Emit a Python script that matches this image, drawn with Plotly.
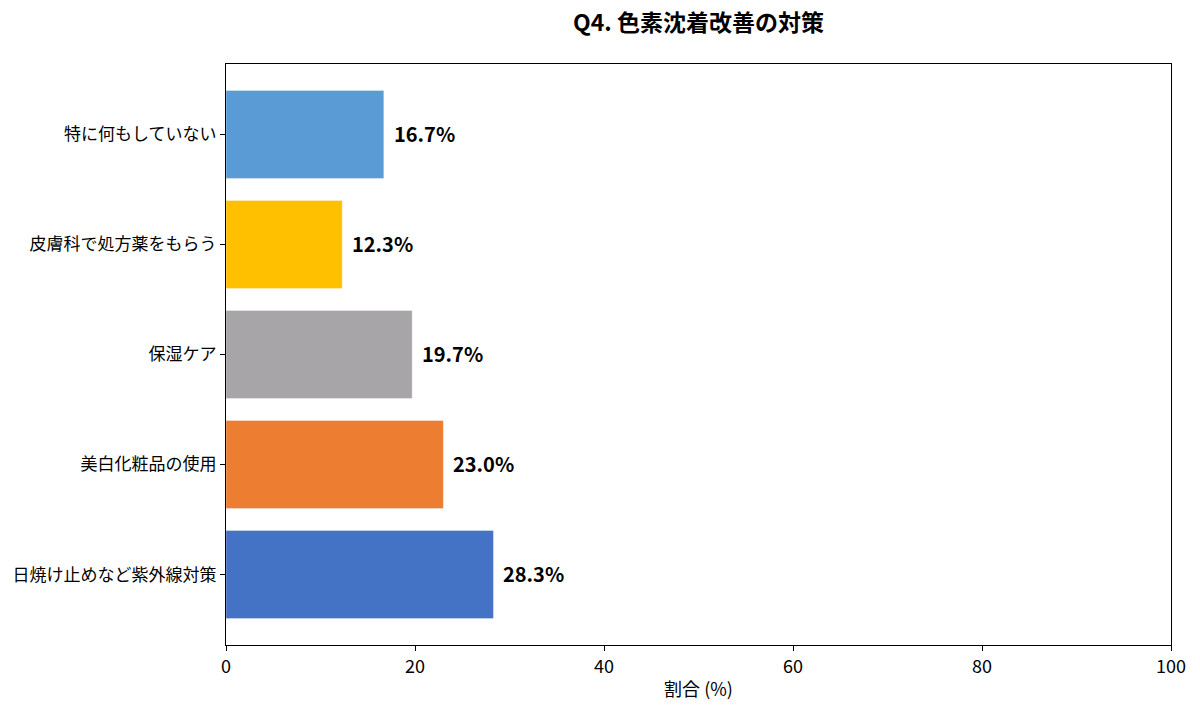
import plotly.graph_objects as go

categories = ["日焼け止めなど紫外線対策", "美白化粧品の使用", "保湿ケア", "皮膚科で処方薬をもらう", "特に何もしていない"]
values = [28.3, 23.0, 19.7, 12.3, 16.7]
colors = ["#4472C4", "#ED7D31", "#A7A5A8", "#FFC000", "#5B9BD5"]
labels = [f"{v:.1f}%" for v in values]
x_ticks = [0, 20, 40, 60, 80, 100]

FONT = "Noto Sans CJK JP"

fig = go.Figure()
fig.add_trace(go.Bar(
    y=list(range(len(categories))),
    x=values,
    orientation="h",
    width=0.8,
    marker=dict(color=colors, line=dict(color="rgba(255,255,255,0.35)", width=1)),
    hoverinfo="skip",
))

for i, (v, t) in enumerate(zip(values, labels)):
    fig.add_annotation(x=v, y=i, text=f"<b>{t}</b>", showarrow=False,
                       xanchor="left", xshift=8, yshift=1,
                       font=dict(family=FONT, size=20, color="#000000"))

fig.update_layout(
    width=1200, height=712,
    margin=dict(l=226, r=29, t=64, b=67),
    paper_bgcolor="white", plot_bgcolor="white",
    showlegend=False,
    font=dict(family=FONT, color="#000000"),
    title=dict(text="<b>Q4. 色素沈着改善の対策</b>", x=(226 + 1171) / 2 / 1200, xanchor="center",
               y=1 - 23 / 712, yanchor="middle", font=dict(family=FONT, size=23, color="#000000")),
    xaxis=dict(range=[0, 100], tickvals=x_ticks, ticks="outside", ticklen=5, tickwidth=1,
               tickcolor="#000", showline=True, linecolor="#000", linewidth=1, mirror=True,
               showgrid=False, zeroline=False, tickfont=dict(size=18),
               title=dict(text="割合 (%)", font=dict(size=18), standoff=6)),
    yaxis=dict(range=[-0.64, 4.64], tickvals=list(range(len(categories))), ticktext=categories,
               ticks="outside", ticklen=5, tickwidth=1, tickcolor="#000",
               showline=True, linecolor="#000", linewidth=1, mirror=True,
               showgrid=False, zeroline=False, tickfont=dict(size=17)),
)

fig.write_html("out.html")
